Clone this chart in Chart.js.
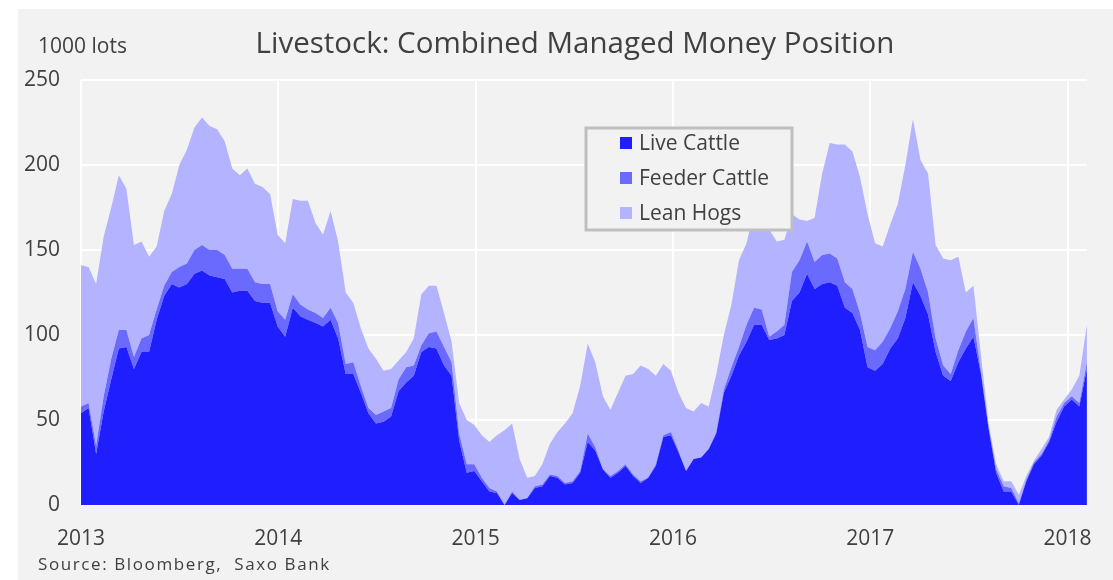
<!DOCTYPE html>
<html>
<head>
<meta charset="utf-8">
<title>Livestock: Combined Managed Money Position</title>
<script src="https://cdn.jsdelivr.net/npm/chart.js@4.4.1/dist/chart.umd.min.js"></script>
<style>
  html, body { margin: 0; padding: 0; background: #fff; }
  canvas { display: block; }
</style>
</head>
<body>
<canvas id="chart" width="1113" height="580"></canvas>
<script>
// fortnightly readings, the first one taken at the start of 2013
const startYear = 2013;
const stepDays = 14;

// 1000 lots
const liveCattle = [
  54, 57, 30, 55, 74, 92, 93, 80, 90, 90,
  109, 123, 130, 128, 130, 136, 138, 135, 134, 133,
  125, 126, 126, 120, 119, 119, 105, 99, 116, 111,
  109, 107, 105, 109, 98, 77, 77, 66, 54, 48,
  49, 52, 67, 72, 76, 90, 93, 92, 82, 76,
  38, 19, 20, 14, 8, 7, 0, 7, 3, 4,
  10, 11, 17, 16, 12, 13, 19, 37, 32, 21,
  16, 19, 23, 17, 13, 16, 23, 40, 41, 31,
  20, 27, 28, 33, 42, 66, 76, 88, 96, 106,
  106, 97, 98, 100, 120, 125, 136, 127, 130, 131,
  129, 116, 113, 103, 81, 79, 83, 92, 98, 110,
  131, 123, 112, 90, 76, 73, 84, 92, 99, 77,
  45, 19, 8, 8, 0, 14, 24, 29, 37, 49,
  58, 62, 58, 80
];
const feederCattle = [
  4, 3, 5, 9, 12, 11, 10, 7, 8, 10,
  6, 6, 7, 12, 12, 14, 15, 15, 16, 14,
  14, 13, 13, 11, 11, 11, 9, 10, 8, 7,
  6, 6, 5, 7, 9, 6, 7, 4, 3, 5,
  6, 5, 7, 9, 6, 4, 8, 10, 11, 8,
  4, 5, 4, 2, 2, 1, 0, 1, 0, 0,
  1, 1, 1, 1, 1, 1, 1, 5, 2, 0,
  1, 1, 1, 1, 1, 0, 1, 1, 2, 1,
  0, 0, 0, 0, 1, 2, 5, 5, 10, 10,
  9, 2, 4, 6, 17, 19, 19, 16, 17, 17,
  16, 15, 14, 10, 12, 12, 13, 12, 16, 17,
  18, 16, 13, 8, 6, 4, 7, 10, 11, 1,
  1, 2, 3, 2, 1, 1, 1, 1, 1, 3,
  2, 2, 2, 4
];
const leanHogs = [
  83, 80, 95, 94, 89, 91, 83, 66, 57, 46,
  37, 44, 46, 60, 67, 72, 75, 73, 71, 67,
  59, 55, 59, 58, 57, 53, 45, 45, 56, 61,
  64, 53, 49, 57, 48, 42, 35, 34, 35, 33,
  24, 23, 11, 9, 16, 30, 28, 27, 20, 12,
  18, 26, 23, 25, 27, 33, 44, 40, 24, 12,
  6, 12, 18, 26, 35, 40, 50, 53, 50, 43,
  39, 46, 52, 59, 68, 64, 52, 42, 36, 34,
  37, 28, 32, 25, 34, 32, 37, 51, 48, 57,
  60, 63, 53, 50, 34, 24, 12, 26, 48, 65,
  67, 81, 81, 80, 78, 63, 56, 61, 63, 73,
  78, 64, 70, 55, 63, 67, 55, 23, 19, 10,
  2, 3, 3, 4, 5, 2, 1, 3, 2, 4,
  2, 4, 16, 22
];

const seriesNames = ["Live Cattle", "Feeder Cattle", "Lean Hogs"];
const seriesColors = ["#1e1eff", "#6a6aff", "#b3b3ff"];
const yearTicks = [2013, 2014, 2015, 2016, 2017, 2018];
const valueTicks = [0, 50, 100, 150, 200, 250];

const titleText = "Livestock: Combined Managed Money Position";
const unitText = "1000 lots";
const sourceText = "Source: Bloomberg,  Saxo Bank";
const textColor = "#404040";

const xs = liveCattle.map((_, i) => startYear + i * stepDays / 365.25);
const toPoints = arr => arr.map((v, i) => ({ x: xs[i], y: v }));

const datasets = [liveCattle, feederCattle, leanHogs].map((arr, i) => ({
  label: seriesNames[i],
  data: toPoints(arr),
  backgroundColor: seriesColors[i],
  borderColor: "transparent",
  borderWidth: 0,
  pointRadius: 0,
  tension: 0,
  fill: i === 0 ? "origin" : "-1"
}));

// panel, title, notes and the boxed legend
const decor = {
  id: "decor",
  beforeDraw(chart) {
    const c = chart.ctx;
    c.save();
    c.fillStyle = "#ffffff";
    c.fillRect(0, 0, chart.width, chart.height);
    c.fillStyle = "#f2f2f2";
    c.fillRect(18, 9, chart.width - 18, chart.height - 9);
    c.restore();
  },
  afterDraw(chart) {
    const c = chart.ctx;
    c.save();
    c.fillStyle = textColor;
    c.textBaseline = "alphabetic";

    c.font = '29.5px "Open Sans"';
    c.textAlign = "center";
    c.fillText(titleText, 575, 53);

    c.font = '21px "Open Sans"';
    c.textAlign = "left";
    c.fillText(unitText, 38, 53);

    c.font = '17px "Open Sans"';
    c.letterSpacing = "1.6px";
    c.fillText(sourceText, 38, 570);
    c.letterSpacing = "0px";

    // legend box
    c.fillStyle = "#f2f2f2";
    c.fillRect(586, 128, 206, 102);
    c.strokeStyle = "#bfbfbf";
    c.lineWidth = 3;
    c.strokeRect(586, 128, 206, 102);
    c.font = '21px "Open Sans"';
    seriesNames.forEach((name, i) => {
      const top = 137 + i * 35;
      c.fillStyle = seriesColors[i];
      c.fillRect(620, top, 12, 12);
      c.fillStyle = textColor;
      c.fillText(name, 639, top + 13);
    });
    c.restore();
  }
};

new Chart(document.getElementById("chart"), {
  type: "line",
  data: { datasets },
  options: {
    responsive: false,
    devicePixelRatio: 1,
    animation: false,
    layout: { padding: { top: 80, left: 0, right: 22, bottom: 25 } },
    plugins: {
      legend: { display: false },
      tooltip: { enabled: false },
      filler: { propagate: false }
    },
    scales: {
      x: {
        type: "linear",
        min: startYear,
        max: xs[xs.length - 1],
        afterFit: s => { s.height = 50; },
        afterBuildTicks: s => { s.ticks = yearTicks.map(v => ({ value: v })); },
        grid: { color: "#ffffff", lineWidth: 2, drawTicks: false },
        border: { display: false },
        ticks: {
          padding: 21,
          color: textColor,
          font: { family: "Open Sans", size: 21 },
          callback: v => String(v)
        }
      },
      y: {
        stacked: true,
        min: 0,
        max: 250,
        afterFit: s => { s.width = 81; },
        afterBuildTicks: s => { s.ticks = valueTicks.map(v => ({ value: v })); },
        grid: { color: "#ffffff", lineWidth: 2, drawTicks: false },
        border: { display: false },
        ticks: {
          padding: 21,
          color: textColor,
          font: { family: "Open Sans", size: 21 }
        }
      }
    }
  },
  plugins: [decor]
});
</script>
</body>
</html>
